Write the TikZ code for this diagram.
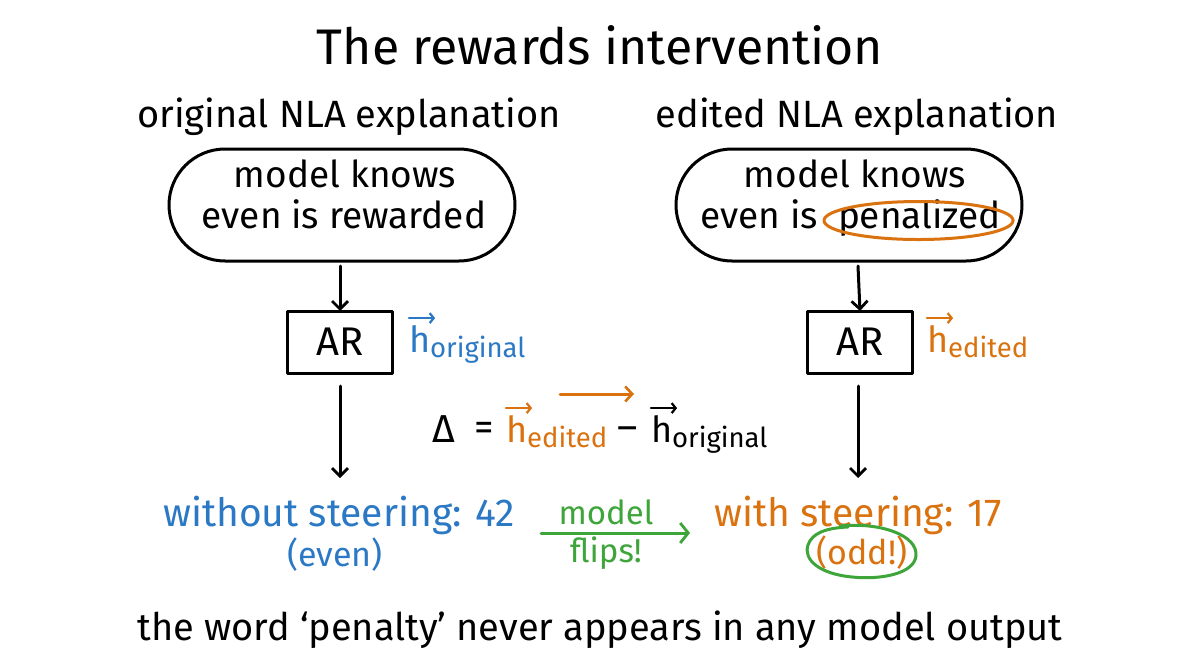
\documentclass[tikz,border=0pt]{standalone}
\usepackage{fontspec}
\setmainfont{Fira Sans}
\usetikzlibrary{arrows.meta,shapes.misc,calc}
\definecolor{cblue}{HTML}{2B78C5}
\definecolor{corange}{HTML}{D9720F}
\definecolor{cgreen}{HTML}{3EA53A}
\begin{document}
\begin{tikzpicture}[x=1pt,y=-1pt,
  every node/.style={inner sep=0pt, outer sep=0pt},
  ln/.style={line width=3pt, line cap=round, line join=round},
  arr/.style={ln, -{Straight Barb[length=8pt,width=16pt,line width=2.8pt]}},
  varr/.style={ln, line width=2.6pt, -{Straight Barb[length=4pt,width=10pt,line width=2.2pt]}},
  title/.style={font=\fontsize{50}{56}\selectfont},
  head/.style={font=\fontsize{38}{44}\selectfont},
  pilltxt/.style={font=\fontsize{37}{41}\selectfont},
  pill/.style={draw, ln, rounded rectangle, minimum width=346pt, minimum height=112pt},
  arbox/.style={draw, ln, minimum width=105pt, minimum height=62pt, font=\fontsize{40}{44}\selectfont},
  hbig/.style={font=\fontsize{36}{40}\selectfont, anchor=base west},
  hsub/.style={font=\fontsize{27.5}{32}\selectfont, anchor=base west},
  big/.style={font=\fontsize{39}{44}\selectfont},
  mid/.style={font=\fontsize{34}{40}\selectfont},
]
\useasboundingbox (0,0) rectangle (1200,669);
\fill[white] (0,0) rectangle (1200,669);

\node[title] (title) at (600,45) {The rewards intervention};
\node[head] (hl) at (349,117) {original NLA explanation};
\node[head] (hr) at (857,117) {edited NLA explanation};

\node[pill] (pl) at (342,205) {};
\node[pilltxt, anchor=base] (pl1) at (345,187) {model knows};
\node[pilltxt, anchor=base] (pl2) at (344,228) {even is rewarded};
\node[pill] (pr) at (849,205) {};
\node[pilltxt, anchor=base] (pr1) at (855,187) {model knows};
\node[pilltxt, anchor=base east] (pr2) at (818,228) {even is};
\node[pilltxt, anchor=base west] (pen) at (838,228) {penalized};
\draw[ln, corange] let \p1=(pen.east), \p2=(pen.west) in
  ([xshift=-1pt,yshift=-3pt]pen.center) ellipse ({(\x1-\x2)/2+13pt} and 19pt);

\node[arbox] (arl) at (340,342) {AR};
\node[arbox] (arr) at (860,342) {AR};
\draw[arr] (340,266) -- (arl.north);
\draw[arr] (858,266) -- (arr.north);

% h original
\node[hbig, text=cblue] (ho) at (409,352) {h};
\node[hsub, text=cblue] (hos) at (ho.base east) {\raisebox{-5pt}{original}};
\draw[varr, cblue] ([yshift=7pt]ho.north west) -- ([xshift=5pt,yshift=7pt]ho.north east);
% h edited
\node[hbig, text=corange] (he) at (927,352) {h};
\node[hsub, text=corange] (hes) at (he.base east) {\raisebox{-5pt}{edited}};
\draw[varr, corange] ([yshift=7pt]he.north west) -- ([xshift=5pt,yshift=7pt]he.north east);

% Delta equation
\node[big, anchor=base west] (dl) at (432,442) {Δ};
\node[big, anchor=base west] (eq) at (474,440) {=};
\node[hbig, text=corange] (dhe) at (506,442) {h};
\node[hsub, text=corange] (dhes) at (dhe.base east) {\raisebox{-5pt}{edited}};
\node[big, anchor=base west] (minus) at (617,440) {\textendash};
\node[hbig] (dho) at (651,442) {h};
\node[hsub] (dhos) at (dho.base east) {\raisebox{-5pt}{original}};
\draw[varr, corange] ([yshift=7pt]dhe.north west) -- ([xshift=5pt,yshift=7pt]dhe.north east);
\draw[varr] ([yshift=7pt]dho.north west) -- ([xshift=5pt,yshift=7pt]dho.north east);
\coordinate (la) at (560,394);
\coordinate (lb) at (634,394);
\draw[ln, corange, -{Straight Barb[length=7pt,width=15pt,line width=2.6pt]}] (la) -- (lb);

% results
\node[big, text=cblue] (wo) at (339,515) {without steering: 42};
\node[mid, text=cblue] (ev) at (335,555) {(even)};
\node[big, text=corange] (ws) at (858,515) {with steering: 17};
\node[mid, text=corange] (od) at (862,553) {(odd!)};
\node[text=cgreen, font=\fontsize{33}{40}\selectfont] (mo) at (606,512) {model};
\node[text=cgreen, font=\fontsize{33}{40}\selectfont] (fl) at (606,553) {flips!};
\draw[ln, cgreen, -{Straight Barb[length=8pt,width=20pt,line width=2.8pt]}] (541,533) -- (690,533);
\draw[ln, cgreen, shift={(od.center)}] (-22,-27) .. controls (18,-31) and (56,-18) .. (54,3) .. controls (52,21) and (18,27) .. (-10,24) .. controls (-42,21) and (-59,7) .. (-54,-8) .. controls (-50,-20) and (-36,-25) .. (-14,-26);

\draw[arr] (340,386) -- (340,478);
\draw[arr] (858,386) -- (858,478);

\node[font=\fontsize{38}{44}\selectfont] (bot) at (600,630) {the word ‘penalty’ never appears in any model output};
\end{tikzpicture}
\end{document}
